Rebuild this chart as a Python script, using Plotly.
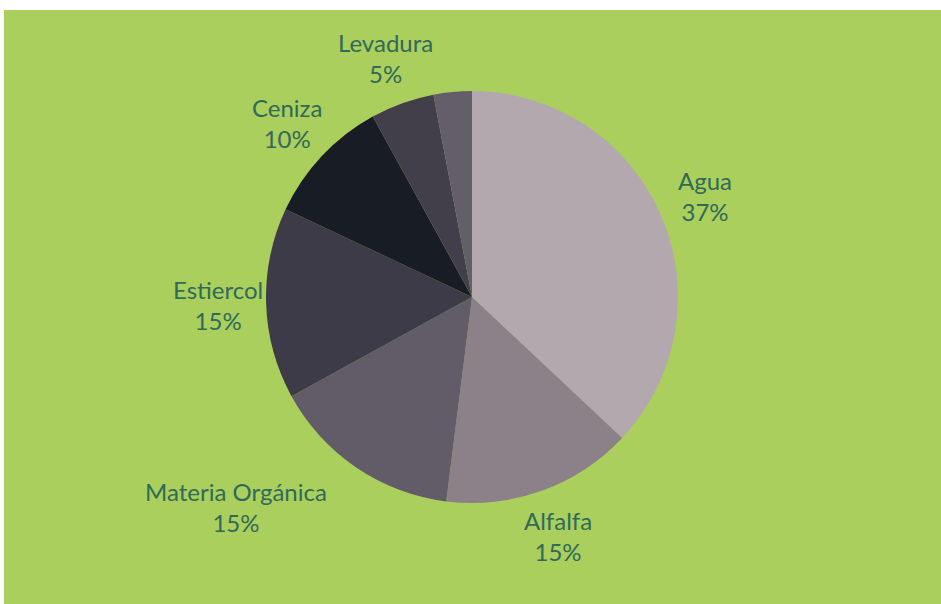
import math
import plotly.graph_objects as go

labels = ["Agua", "Alfalfa", "Materia Orgánica", "Estiercol", "Ceniza", "Levadura", "Otros"]
values = [37, 15, 15, 15, 10, 5, 3]
colors = ["#b4a8af", "#8c8089", "#615c68", "#3c3b47", "#181c25", "#423f4a", "#635e6a"]
show_text = [True, True, True, True, True, True, False]
# label alignment around its anchor point (the wide one sits to the left)
anchors = ["center", "center", "right", "center", "center", "center", "center"]

W, H = 941, 604
cx, cy, r = 472, 297, 206
label_r = 254

fig = go.Figure()
fig.add_trace(go.Pie(
    labels=labels,
    values=values,
    sort=False,
    direction="clockwise",
    rotation=0,
    marker=dict(colors=colors, line=dict(width=0)),
    textinfo="none",
    domain=dict(x=[(cx - r) / W, (cx + r) / W], y=[(H - cy - r) / H, (H - cy + r) / H]),
    showlegend=False,
    hoverinfo="label+percent",
))

# outside labels placed radially at each slice's middle angle
total = sum(values)
cum = 0
for lab, v, show, anc in zip(labels, values, show_text, anchors):
    mid = (cum + v / 2) / total * 2 * math.pi
    cum += v
    if not show:
        continue
    px = cx + label_r * math.sin(mid)
    py = cy - label_r * math.cos(mid)
    fig.add_annotation(
        x=px / W, y=(H - py) / H, xref="paper", yref="paper",
        text=f"{lab}<br>{round(v / total * 100)}%",
        showarrow=False, xanchor=anc, yanchor="middle", align="center",
        font=dict(family="Lato, Open Sans, sans-serif", size=24, color="#2f6a5a"),
    )

fig.add_shape(type="rect", xref="paper", yref="paper", x0=4 / W, x1=1, y0=0, y1=1 - 10 / H,
              fillcolor="#abcf5c", line=dict(width=0), layer="below")

fig.update_layout(
    width=W, height=H,
    margin=dict(l=0, r=0, t=0, b=0),
    paper_bgcolor="white",
    plot_bgcolor="white",
)

fig.write_html("out.html", config={"displayModeBar": False},
               post_script="document.body.style.margin='0px';")
